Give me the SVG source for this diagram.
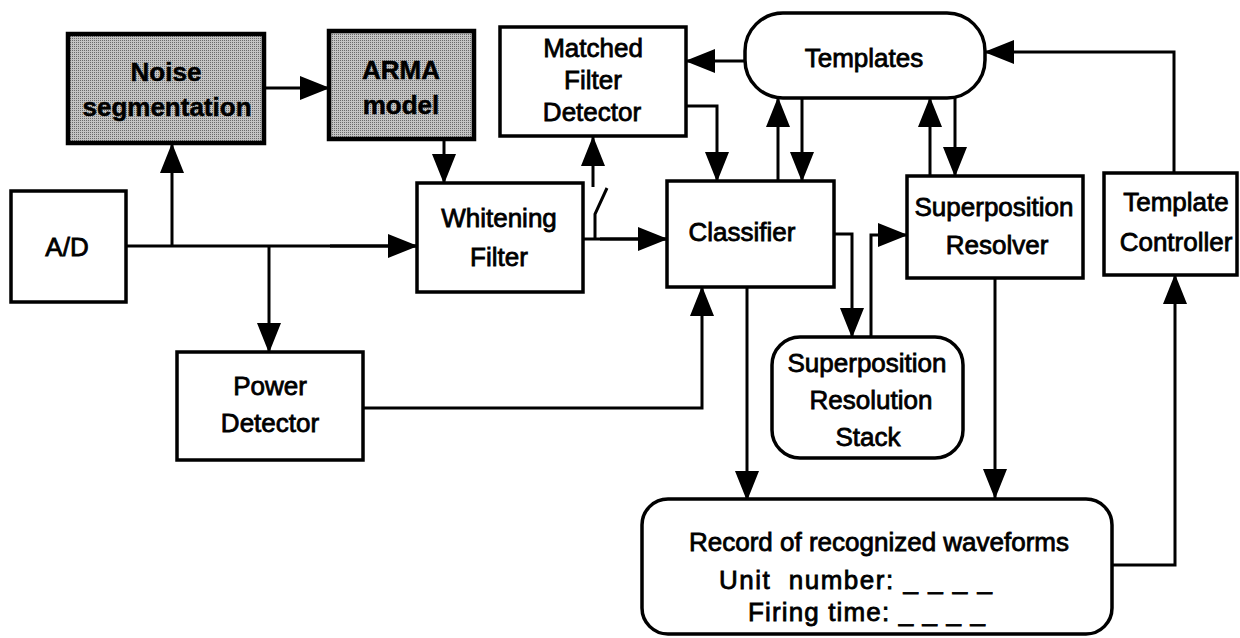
<svg xmlns="http://www.w3.org/2000/svg" width="1240" height="638" viewBox="0 0 1240 638">
<style>
.box{fill:#fff;stroke:#000;stroke-width:3.5}
.shade{fill:url(#dots);stroke:#000;stroke-width:4.5}
.t{font-family:"Liberation Sans",Arial,Helvetica,sans-serif;font-size:26px;fill:#000;stroke:#000;stroke-width:0.8;text-anchor:middle}
.tb{font-family:"Liberation Sans",Arial,Helvetica,sans-serif;font-size:26px;font-weight:bold;fill:#000;stroke:#000;stroke-width:0.5;text-anchor:middle}
.ts{font-family:"Liberation Sans",Arial,Helvetica,sans-serif;font-size:26px;fill:#000;stroke:#000;stroke-width:0.8;text-anchor:start;white-space:pre}
.c{fill:none;stroke:#000;stroke-width:3}
.a{fill:none;stroke:#000;stroke-width:3;marker-end:url(#ah)}
</style>
<defs>
<pattern id="dots" width="2" height="2" patternUnits="userSpaceOnUse">
<rect width="2" height="2" fill="#c4c4c4"/>
<rect x="0" y="0" width="1" height="1" fill="#6a6a6a"/>
</pattern>
<marker id="ah" markerUnits="userSpaceOnUse" markerWidth="30" markerHeight="24" refX="29" refY="12" orient="auto" viewBox="0 0 30 24">
<path d="M0,0 L30,12 L0,24 Z" fill="#000"/>
</marker>
</defs>
<rect width="1240" height="638" fill="#fff"/>

<g id="connectors">
<path class="a" d="M264,88 L329,88"/>
<path class="c" d="M126,246 L417,246"/>
<path class="a" d="M172,246 L172,144"/>
<path class="a" d="M269,246 L269,352"/>
<path class="a" d="M330,246 L417,246"/>
<path class="a" d="M444,139 L444,183"/>
<path class="c" d="M583,239 L667,239"/>
<path class="a" d="M600,239 L667,239"/>
<path class="c" d="M595,239 L595,214 L607,188"/>
<path class="a" d="M593,187 L593,137"/>
<path class="a" d="M745,61 L686,61"/>
<path class="a" d="M686,106 L717,106 L717,181"/>
<path class="a" d="M778,181 L778,98"/>
<path class="a" d="M802,98 L802,181"/>
<path class="a" d="M930,176 L930,98"/>
<path class="a" d="M955,98 L955,176"/>
<path class="a" d="M1174,173 L1174,52 L985,52"/>
<path class="a" d="M834,234 L852,234 L852,337"/>
<path class="a" d="M871,337 L871,235 L907,235"/>
<path class="a" d="M747,287 L747,500"/>
<path class="a" d="M995,278 L995,498"/>
<path class="a" d="M363,408 L702,408 L702,287"/>
<path class="a" d="M1112,565 L1175,565 L1175,275"/>
</g>

<g id="noise">
<rect class="shade" x="68" y="34" width="196" height="109"/>
<text class="tb" x="166" y="81">Noise</text>
<text class="tb" x="167" y="116">segmentation</text>
</g>
<g id="arma">
<rect class="shade" x="329" y="31" width="145" height="108"/>
<text class="tb" x="401" y="79">ARMA</text>
<text class="tb" x="401" y="114">model</text>
</g>
<g id="ad">
<rect class="box" x="11" y="191" width="115" height="111"/>
<text class="t" x="67" y="256">A/D</text>
</g>
<g id="whitening">
<rect class="box" x="417" y="183" width="166" height="109"/>
<text class="t" x="499" y="227">Whitening</text>
<text class="t" x="499" y="266">Filter</text>
</g>
<g id="matched">
<rect class="box" x="500" y="27" width="186" height="109"/>
<text class="t" x="593" y="57">Matched</text>
<text class="t" x="593" y="89">Filter</text>
<text class="t" x="592" y="121">Detector</text>
</g>
<g id="power">
<rect class="box" x="177" y="352" width="186" height="108"/>
<text class="t" x="270" y="395">Power</text>
<text class="t" x="270" y="432">Detector</text>
</g>
<g id="classifier">
<rect class="box" x="667" y="181" width="167" height="106"/>
<text class="t" x="742" y="241">Classifier</text>
</g>
<g id="templates">
<rect class="box" x="745" y="13" width="240" height="85" rx="38" ry="38"/>
<text class="t" x="864" y="67">Templates</text>
</g>
<g id="resolver">
<rect class="box" x="907" y="176" width="176" height="102"/>
<text class="t" x="994" y="216">Superposition</text>
<text class="t" x="997" y="254">Resolver</text>
</g>
<g id="controller">
<rect class="box" x="1104" y="173" width="133" height="102"/>
<text class="t" x="1176" y="211">Template</text>
<text class="t" x="1176" y="251">Controller</text>
</g>
<g id="stack">
<rect class="box" x="772" y="337" width="191" height="121" rx="28" ry="28"/>
<text class="t" x="867" y="372">Superposition</text>
<text class="t" x="871" y="409">Resolution</text>
<text class="t" x="868" y="446">Stack</text>
</g>
<g id="record">
<rect class="box" x="642" y="499" width="470" height="135" rx="26" ry="26"/>
<text class="t" x="879" y="551">Record of recognized waveforms</text>
<text class="ts" x="719" y="589" textLength="273" lengthAdjust="spacing">Unit  number: _ _ _ _</text>
<text class="ts" x="748" y="621" textLength="237" lengthAdjust="spacing">Firing time: _ _ _ _</text>
</g>
</svg>
